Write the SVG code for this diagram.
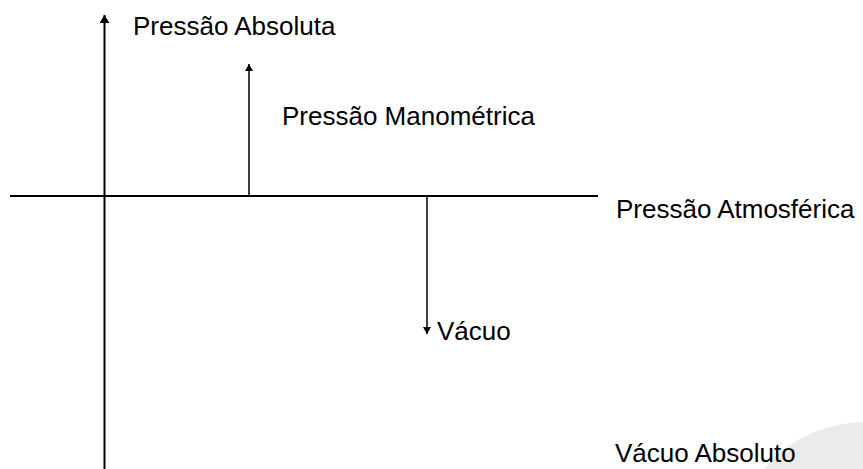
<svg xmlns="http://www.w3.org/2000/svg" width="863" height="469" viewBox="0 0 863 469">
<style>
.lbl{font-family:"Liberation Sans",Arial,sans-serif;font-size:26px;fill:#000}
.ln{stroke:#000;fill:none}
</style>
<defs>
<marker id="ah" viewBox="0 0 8 10" refX="8" refY="5" markerWidth="8" markerHeight="10" markerUnits="userSpaceOnUse" orient="auto">
<path d="M0,0 L8,5 L0,10 Z" fill="#000"/>
</marker>
<marker id="ahs" viewBox="0 0 7 8" refX="7" refY="4" markerWidth="7" markerHeight="8" markerUnits="userSpaceOnUse" orient="auto">
<path d="M0,0 L7,4 L0,8 Z" fill="#000"/>
</marker>
</defs>
<rect width="863" height="469" fill="#fff"/>
<ellipse cx="866" cy="536" rx="126" ry="114" fill="#ebebeb"/>
<g id="connectors">
<line class="ln" x1="10" y1="196" x2="598" y2="196" stroke-width="2"/>
<line class="ln" x1="104.5" y1="469" x2="104.5" y2="15" stroke-width="2" marker-end="url(#ah)"/>
<line class="ln" x1="249" y1="197" x2="249" y2="64" stroke-width="1.5" marker-end="url(#ahs)"/>
<line class="ln" x1="427" y1="196" x2="427" y2="334" stroke-width="1.5" marker-end="url(#ahs)"/>
</g>
<g id="pressao-absoluta"><text class="lbl" x="133" y="35">Pressão Absoluta</text></g>
<g id="pressao-manometrica"><text class="lbl" x="282" y="125">Pressão Manométrica</text></g>
<g id="pressao-atmosferica"><text class="lbl" x="616" y="218">Pressão Atmosférica</text></g>
<g id="vacuo"><text class="lbl" x="437" y="340">Vácuo</text></g>
<g id="vacuo-absoluto"><text class="lbl" x="615" y="462">Vácuo Absoluto</text></g>
</svg>
